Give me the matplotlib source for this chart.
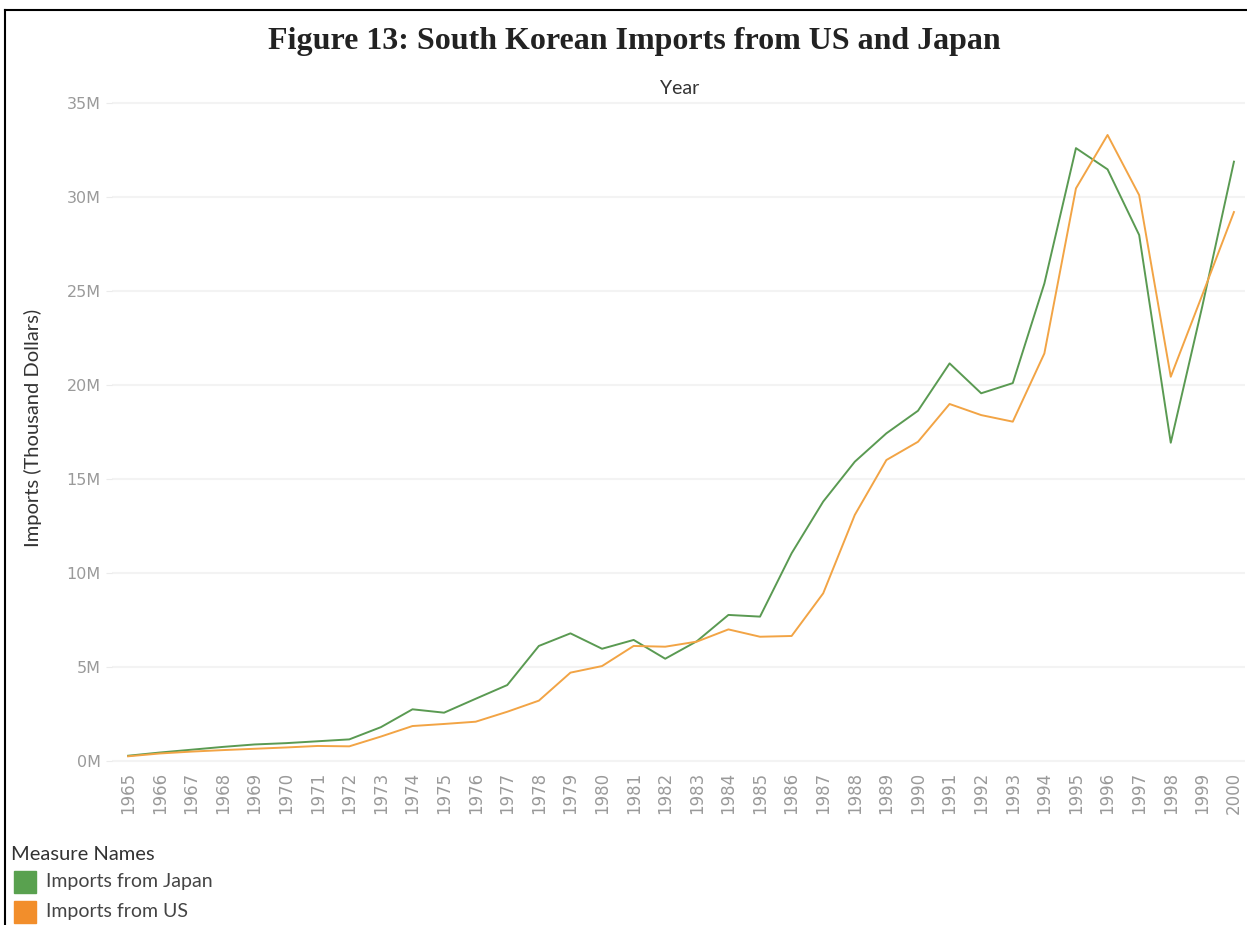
import matplotlib
matplotlib.use("Agg")
import matplotlib.pyplot as plt
from matplotlib.lines import Line2D
from matplotlib.patches import Rectangle
from matplotlib.ticker import FuncFormatter, MultipleLocator

years = list(range(1965, 2001))
japan = [0.28, 0.45, 0.60, 0.75, 0.88, 0.95, 1.05, 1.15, 1.80, 2.75,
         2.57, 3.31, 4.04, 6.12, 6.79, 5.97, 6.44, 5.44, 6.37, 7.77,
         7.68, 11.05, 13.80, 15.92, 17.43, 18.63, 21.15, 19.56, 20.10, 25.40,
         32.60, 31.47, 27.98, 16.93, 24.20, 31.88]
us = [0.25, 0.40, 0.50, 0.58, 0.65, 0.72, 0.80, 0.78, 1.30, 1.86,
      1.97, 2.09, 2.62, 3.21, 4.70, 5.05, 6.12, 6.08, 6.35, 7.00,
      6.61, 6.65, 8.92, 13.09, 16.01, 16.98, 18.99, 18.40, 18.05, 21.68,
      30.46, 33.30, 30.10, 20.44, 24.80, 29.20]
series_names = ["Imports from Japan", "Imports from US"]
colors = ["#59A14F", "#F28E2B"]

W, H = 1247, 925
fig = plt.figure(figsize=(W / 100, H / 100), dpi=100)
fig.patch.set_facecolor("white")

def fx(px):
    return px / W

def fy(py):
    return 1 - py / H

ax = fig.add_axes([fx(112), fy(772), fx(1245) - fx(112), fy(100) - fy(772)])
ax.plot(years, japan, color="#5A9A52", lw=1.4, zorder=3)
ax.plot(years, us, color="#F2A445", lw=1.4, zorder=3)

ax.set_xlim(1964.49, 2000.35)
ax.set_ylim(-0.585, 35.16)
ax.yaxis.set_major_locator(MultipleLocator(5))
ax.yaxis.set_major_formatter(FuncFormatter(lambda v, p: f"{int(round(v))}M"))
ax.set_xticks(years)
ax.set_xticklabels([str(y) for y in years], rotation=90, fontsize=12,
                   color="#9a9a9a", family="DejaVu Sans")
for lab in ax.get_yticklabels():
    lab.set_fontsize(11.5)
    lab.set_color("#9a9a9a")
ax.tick_params(axis="y", length=4, color="#ebebeb", pad=4)
ax.tick_params(axis="x", length=0, pad=0)
ax.grid(axis="y", color="#f3f3f3", lw=1.5, zorder=0)
for s in ax.spines.values():
    s.set_visible(False)

# Title and headers
fig.text(fx(634), fy(42), "Figure 13: South Korean Imports from US and Japan",
         ha="center", va="center", fontsize=23, fontweight="bold",
         family="Liberation Serif", color="#222222")
fig.text(fx(680), fy(88), "Year", ha="center", va="center", fontsize=14,
         family="Lato", color="#333333")
fig.text(fx(33), fy(428), "Imports (Thousand Dollars)", ha="center", va="center",
         rotation=90, fontsize=14.5, family="Lato", color="#333333")

# Legend
fig.text(fx(11), fy(855), "Measure Names", ha="left", va="center",
         fontsize=14.5, family="Lato", color="#333333")
for i, (name, c) in enumerate(zip(series_names, colors)):
    yc = 882 + i * 30
    fig.patches.append(Rectangle((fx(14), fy(yc + 11)), fx(22), fy(yc - 11) - fy(yc + 11),
                                 transform=fig.transFigure, color=c))
    fig.text(fx(46), fy(yc), name, ha="left", va="center", fontsize=14,
             family="Lato", color="#444444")

# Frame border
fig.lines.append(Line2D([fx(5), fx(1247)], [fy(10), fy(10)], transform=fig.transFigure,
                        color="black", lw=1.5))
fig.lines.append(Line2D([fx(5), fx(5)], [fy(10), fy(925)], transform=fig.transFigure,
                        color="black", lw=1.5))

fig.savefig("out.png", dpi=100, facecolor="white")
